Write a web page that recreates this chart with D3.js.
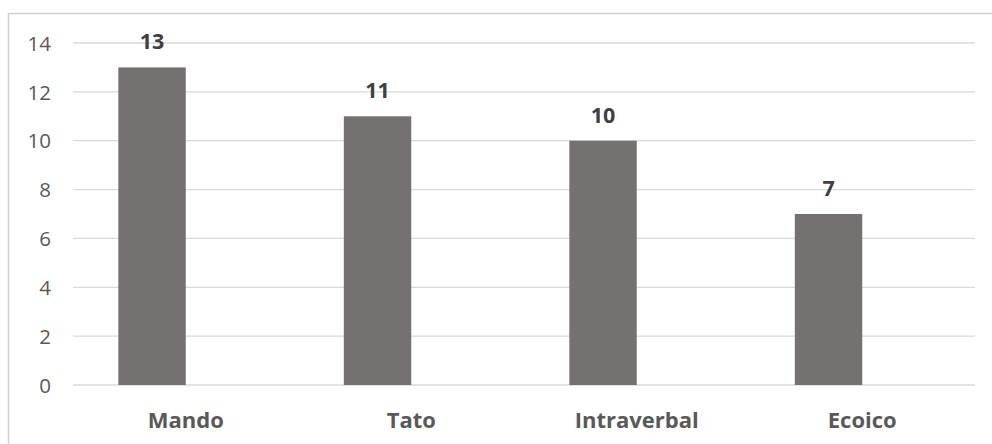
<!DOCTYPE html>
<html>
<head>
<meta charset="utf-8">
<script src="https://cdn.jsdelivr.net/npm/d3@7"></script>
<style>
  html, body { margin: 0; padding: 0; background: #ffffff; }
  svg { display: block; }
</style>
</head>
<body>
<svg id="chart" width="992" height="444"></svg>
<script>
// Categories and counts
const categories = ["Mando", "Tato", "Intraverbal", "Ecoico"];
const values = [13, 11, 10, 7];
const yTicks = [0, 2, 4, 6, 8, 10, 12, 14];
// Series slots inside each category group (only the first one holds data)
const seriesSlots = ["count", "empty"];

const svg = d3.select("#chart");
const plot = { left: 73, right: 975, top: 43, bottom: 385 };

// Outer frame (only its top and left edges fall inside the canvas)
svg.append("rect")
  .attr("x", 8.5).attr("y", 13.5)
  .attr("width", 1200).attr("height", 800)
  .attr("fill", "none")
  .attr("stroke", "#d0d0d0")
  .attr("stroke-width", 1.5);

const y = d3.scaleLinear().domain([0, 14]).range([plot.bottom, plot.top]);

const x0 = d3.scaleBand()
  .domain(categories)
  .range([plot.left, plot.right])
  .paddingInner(0.402)
  .paddingOuter(0.201);

const x1 = d3.scaleBand()
  .domain(seriesSlots)
  .range([0, x0.bandwidth()]);

// Horizontal gridlines
svg.append("g")
  .selectAll("line")
  .data(yTicks)
  .join("line")
  .attr("x1", plot.left).attr("x2", plot.right)
  .attr("y1", d => y(d)).attr("y2", d => y(d))
  .attr("stroke", "#d9d9d9")
  .attr("stroke-width", 1.3);

// Y axis labels
const yAxis = d3.axisLeft(y).tickValues(yTicks).tickSize(0).tickPadding(0);
const gy = svg.append("g")
  .attr("transform", `translate(${plot.left - 22},0)`)
  .call(yAxis);
gy.select(".domain").remove();
gy.selectAll("text")
  .attr("font-family", "'Open Sans', sans-serif")
  .attr("font-size", 20.5)
  .attr("fill", "#595959")
  .attr("dy", "0.35em");

// Bars
const data = categories.map((c, i) => ({ cat: c, value: values[i] }));
svg.append("g")
  .selectAll("rect")
  .data(data)
  .join("rect")
  .attr("x", d => x0(d.cat) + x1("count"))
  .attr("width", x1.bandwidth())
  .attr("y", d => y(d.value))
  .attr("height", d => y(0) - y(d.value))
  .attr("fill", "#767171");

// Value labels above bars
svg.append("g")
  .selectAll("text")
  .data(data)
  .join("text")
  .attr("x", d => x0(d.cat) + x1("count") + x1.bandwidth() / 2)
  .attr("y", d => y(d.value) - 18)
  .attr("text-anchor", "middle")
  .attr("font-family", "'Open Sans', sans-serif")
  .attr("font-weight", "bold")
  .attr("font-size", 21.5)
  .attr("fill", "#404040")
  .text(d => d.value);

// Category axis labels
const xAxis = d3.axisBottom(x0).tickSize(0).tickPadding(0);
const gx = svg.append("g")
  .attr("transform", `translate(0,${plot.bottom})`)
  .call(xAxis);
gx.select(".domain").remove();
gx.selectAll("text")
  .attr("y", 43)
  .attr("dy", 0)
  .attr("font-family", "'Open Sans', sans-serif")
  .attr("font-weight", "bold")
  .attr("font-size", 22)
  .attr("fill", "#595959");
</script>
</body>
</html>
